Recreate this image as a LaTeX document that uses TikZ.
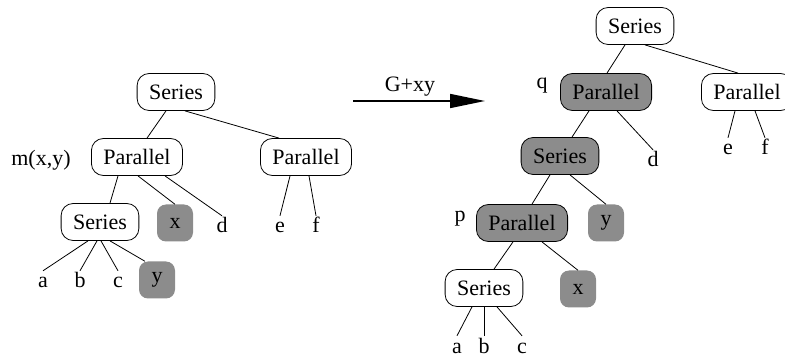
\documentclass[tikz,border=0pt]{standalone}
\usepackage{fontspec}
\setmainfont{Liberation Serif}
\newfontfamily\timesfam{Liberation Serif}
\usetikzlibrary{arrows.meta}
\definecolor{boxgray}{RGB}{140,140,140}
\begin{document}
\begin{tikzpicture}[x=1pt,y=-1pt,
  every node/.style={font=\timesfam\fontsize{22}{26}\selectfont},
  tbox/.style={draw=black,line width=0.8pt,rounded corners=12pt,inner xsep=12pt,inner ysep=0pt,minimum height=37pt},
  gbox/.style={tbox,fill=boxgray},
  leaf/.style={fill=boxgray,rounded corners=9pt,inner sep=0pt,minimum width=36pt,minimum height=37pt},
  lett/.style={anchor=base,inner sep=2pt,text height=15pt,text depth=4pt},
  lab/.style={anchor=base,inner sep=0pt},
  edge/.style={line width=0.8pt}]
\path[use as bounding box,clip] (0,0) rectangle (785,358);

% ---------- left tree ----------
\node[tbox] (Lroot) at (176,92) {Series};
\node[tbox] (Lpl) at (137,157) {Parallel};
\node[tbox] (Lpr) at (306,157) {Parallel};
\node[lab] (mxy) at (41,166) {m(x,y)};
\node[tbox] (Lser) at (100,222) {Series};
\node[leaf] (Lx) at (175,223) {x};
\node[lett] (Ld) at (222,233) {d};
\node[lett] (Le) at (280,233) {e};
\node[lett] (Lf) at (316,233) {f};
\node[lett] (La) at (43,288) {a};
\node[lett] (Lb) at (80,288) {b};
\node[lett] (Lc) at (118,288) {c};
\node[leaf] (Ly) at (157,280) {y};

\draw[edge] ([xshift=-10pt]Lroot.south) -- ([xshift=10pt]Lpl.north);
\draw[edge] ([xshift=9pt]Lroot.south) -- ([xshift=-27pt]Lpr.north);
\draw[edge] ([xshift=-19pt]Lpl.south) -- ([xshift=10pt]Lser.north);
\draw[edge] ([xshift=1pt]Lpl.south) -- (Lx.north);
\draw[edge] ([xshift=28pt]Lpl.south) -- (Ld.north);
\draw[edge] ([xshift=-16pt]Lpr.south) -- (Le.north);
\draw[edge] ([xshift=3pt]Lpr.south) -- (Lf.north);
\draw[edge] ([xshift=-12pt]Lser.south) -- (La.north);
\draw[edge] ([xshift=-3pt]Lser.south) -- (Lb.north);
\draw[edge] ([xshift=1pt]Lser.south) -- (Lc.north);
\draw[edge] ([xshift=10pt]Lser.south) -- ([xshift=-12pt]Ly.north);

% ---------- arrow ----------
\coordinate (arrS) at (353,101);
\coordinate (arrE) at (485,101);
\draw[line width=1.6pt,-{Triangle[length=35pt,width=14pt]}] (arrS) -- (arrE);
\node[lab] (gxy) at (410,92) {G+xy};

% ---------- right tree ----------
\node[tbox] (Rroot) at (635,26) {Series};
\node[gbox] (Rq) at (606,92) {Parallel};
\node[lab] (qlab) at (542,89) {q};
\node[tbox] (Rpr) at (747,92) {Parallel};
\node[lett] (Re) at (728,155) {e};
\node[lett] (Rf) at (765,155) {f};
\node[gbox] (Rser) at (560,156) {Series};
\node[lett] (Rd) at (653,167) {d};
\node[gbox] (Rp) at (522,223) {Parallel};
\node[lab] (plab) at (460,222) {p};
\node[leaf] (Ry) at (606,223) {y};
\node[tbox] (Rs2) at (484,288) {Series};
\node[leaf] (Rx) at (578,289) {x};
\node[lett] (Ra) at (457,353) {a};
\node[lett] (Rb) at (484,353) {b};
\node[lett] (Rc) at (522,353) {c};

\draw[edge] ([xshift=-10pt]Rroot.south) -- ([xshift=1pt]Rq.north);
\draw[edge] ([xshift=10pt]Rroot.south) -- ([xshift=-9pt]Rpr.north);
\draw[edge] ([xshift=-17pt]Rq.south) -- ([xshift=12pt]Rser.north);
\draw[edge] ([xshift=11pt]Rq.south) -- (Rd.north);
\draw[edge] ([xshift=-12pt]Rpr.south) -- (Re.north);
\draw[edge] ([xshift=8pt]Rpr.south) -- (Rf.north);
\draw[edge] ([xshift=-10pt]Rser.south) -- ([xshift=10pt]Rp.north);
\draw[edge] ([xshift=10pt]Rser.south) -- (Ry.north);
\draw[edge] ([xshift=-9pt]Rp.south) -- ([xshift=10pt]Rs2.north);
\draw[edge] ([xshift=20pt]Rp.south) -- (Rx.north);
\draw[edge] ([xshift=-12pt]Rs2.south) -- (Ra.north);
\draw[edge] (Rs2.south) -- (Rb.north);
\draw[edge] ([xshift=13pt]Rs2.south) -- (Rc.north);
\end{tikzpicture}
\end{document}
